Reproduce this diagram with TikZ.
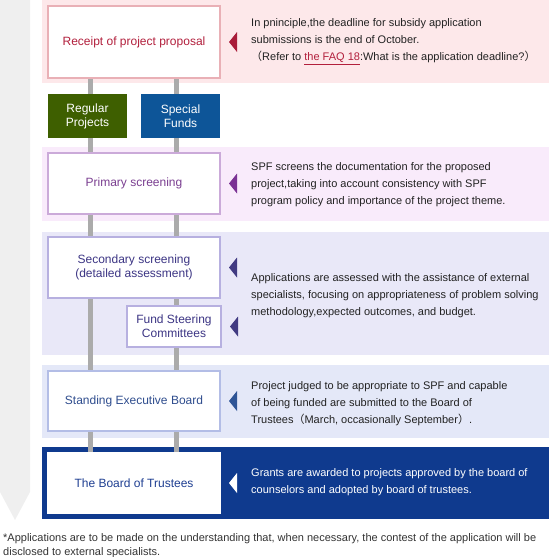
\documentclass[tikz,border=0pt]{standalone}
\usepackage{fontspec}
\setmainfont{Liberation Sans}
\newfontfamily\cjk{Noto Sans CJK JP}

\pgfdeclarelayer{bands}
\pgfdeclarelayer{links}
\pgfsetlayers{bands,links,main}

\definecolor{arrowgray}{HTML}{EFEFEF}
\definecolor{linkgray}{HTML}{ABABAB}
\definecolor{pinkband}{HTML}{FDE8EA}
\definecolor{pinkline}{HTML}{E9B0B6}
\definecolor{redtext}{HTML}{B21F3C}
\definecolor{redarrow}{HTML}{A91D3A}
\definecolor{purpleband}{HTML}{F9EBFB}
\definecolor{purpleline}{HTML}{CBAAD9}
\definecolor{purpletext}{HTML}{7B3F91}
\definecolor{purplearrow}{HTML}{7B3294}
\definecolor{lavband}{HTML}{E9E8F8}
\definecolor{lavline}{HTML}{B7B0E0}
\definecolor{lavtext}{HTML}{3C3584}
\definecolor{lavarrow}{HTML}{413A82}
\definecolor{blueband}{HTML}{E4E8F8}
\definecolor{blueline}{HTML}{B3BDE6}
\definecolor{bluetext}{HTML}{2F4D8E}
\definecolor{bluearrow}{HTML}{2F5596}
\definecolor{trusteeband}{HTML}{0F3A8E}
\definecolor{trusteetext}{HTML}{1F3F92}
\definecolor{regulargreen}{HTML}{3E5F00}
\definecolor{specialblue}{HTML}{0D5598}
\definecolor{notetext}{HTML}{222222}
\definecolor{remarktext}{HTML}{333333}

\tikzset{
  stagebox/.style={draw, line width=2pt, fill=white, minimum width=172pt,
    inner sep=0pt, align=center, font=\fontsize{12}{14}\selectfont},
  fundbox/.style={text=white, minimum width=79pt, minimum height=44pt,
    inner sep=0pt, align=center, font=\fontsize{12}{14}\selectfont},
  desc/.style={anchor=west, inner sep=0pt, align=left, text=notetext,
    font=\fontsize{11}{17}\selectfont},
  link/.style={draw=linkgray, line width=5pt},
}

\begin{document}
\begin{tikzpicture}[x=1pt, y=-1pt]
	\useasboundingbox (0,0) rectangle (549,557);

	%%the long arrow on the left
	\fill[arrowgray] (0,0) -- (30,0) -- (30,492) -- (15,520) -- (0,492) -- cycle;

	%%the bands
	\begin{pgfonlayer}{bands}
		\fill[pinkband] (42,0) rectangle (549,83);
		\fill[purpleband] (42,147) rectangle (549,221);
		\fill[lavband] (42,232) rectangle (549,355);
		\fill[blueband] (42,365) rectangle (549,438);
		\fill[trusteeband] (42,447) rectangle (549,519);
	\end{pgfonlayer}

	%%the stages
	\node[stagebox, draw=pinkline, text=redtext, minimum height=72pt] (receipt) at (134,42) {Receipt of project proposal};
	\node[fundbox, fill=regulargreen] (regular) at (87.5,116) {Regular\\Projects};
	\node[fundbox, fill=specialblue] (special) at (180.5,116) {Special\\Funds};
	\node[stagebox, draw=purpleline, text=purpletext, minimum height=61pt] (primary) at (134,183.5) {Primary screening};
	\node[stagebox, draw=lavline, text=lavtext, minimum height=61pt] (secondary) at (134,267.5) {Secondary screening\\(detailed assessment)};
	\node[stagebox, draw=lavline, text=lavtext, minimum width=94pt, minimum height=41pt] (steering) at (174,326.5) {Fund Steering\\Committees};
	\node[stagebox, draw=blueline, text=bluetext, minimum height=60pt] (standing) at (134,401) {Standing Executive Board};
	\node[stagebox, draw=white, text=trusteetext, minimum height=60pt] (trustees) at (134,483) {The Board of Trustees};

	%%the gray links behind the stages
	\coordinate (colL) at (90.5,0);
	\coordinate (colR) at (176.5,0);
	\begin{pgfonlayer}{links}
		\foreach \a/\b in {receipt/regular, regular/primary, primary/secondary, secondary/standing, standing/trustees}
			\draw[link] (\a.south -| colL) -- (\b.north -| colL);
		\foreach \a/\b in {receipt/special, special/primary, primary/secondary, secondary/steering, steering/standing, standing/trustees}
			\draw[link] (\a.south -| colR) -- (\b.north -| colR);
	\end{pgfonlayer}

	%%the pointers
	\foreach \b/\c in {receipt/redarrow, primary/purplearrow, secondary/lavarrow, steering/lavarrow, standing/bluearrow, trustees/white}
		\fill[\c] ([xshift=8pt]\b.east) -- ++(8,-10) -- ++(0,20) -- cycle;

	%%the notes
	\node[desc] (receiptnote) at (251,41.5) {In pninciple,the deadline for subsidy application\\
		submissions is the end of October.\\
		{\cjk （}Refer to \textcolor{redtext}{\underline{the FAQ 18}}:What is the application deadline?{\cjk ）}};
	\node[desc] (primarynote) at (251,185) {SPF screens the documentation for the proposed\\
		project,taking into account consistency with SPF\\
		program policy and importance of the project theme.};
	\node[desc] (secondarynote) at (251,296) {Applications are assessed with the assistance of external\\
		specialists, focusing on appropriateness of problem solving\\
		methodology,expected outcomes, and budget.};
	\node[desc] (standingnote) at (251,404) {Project judged to be appropriate to SPF and capable\\
		of being funded are submitted to the Board of\\
		Trustees{\cjk （}March, occasionally September{\cjk ）}.};
	\node[desc, text=white] (trusteesnote) at (251,482.5) {Grants are awarded to projects approved by the board of\\
		counselors and adopted by board of trustees.};

	%%the remark at the bottom
	\node[anchor=north west, inner sep=0pt, align=left, text=remarktext, font=\fontsize{11}{14}\selectfont] (remark) at (3,533) {*Applications are to be made on the understanding that, when necessary, the contest of the application will be\\
		disclosed to external specialists.};
\end{tikzpicture}
\end{document}
